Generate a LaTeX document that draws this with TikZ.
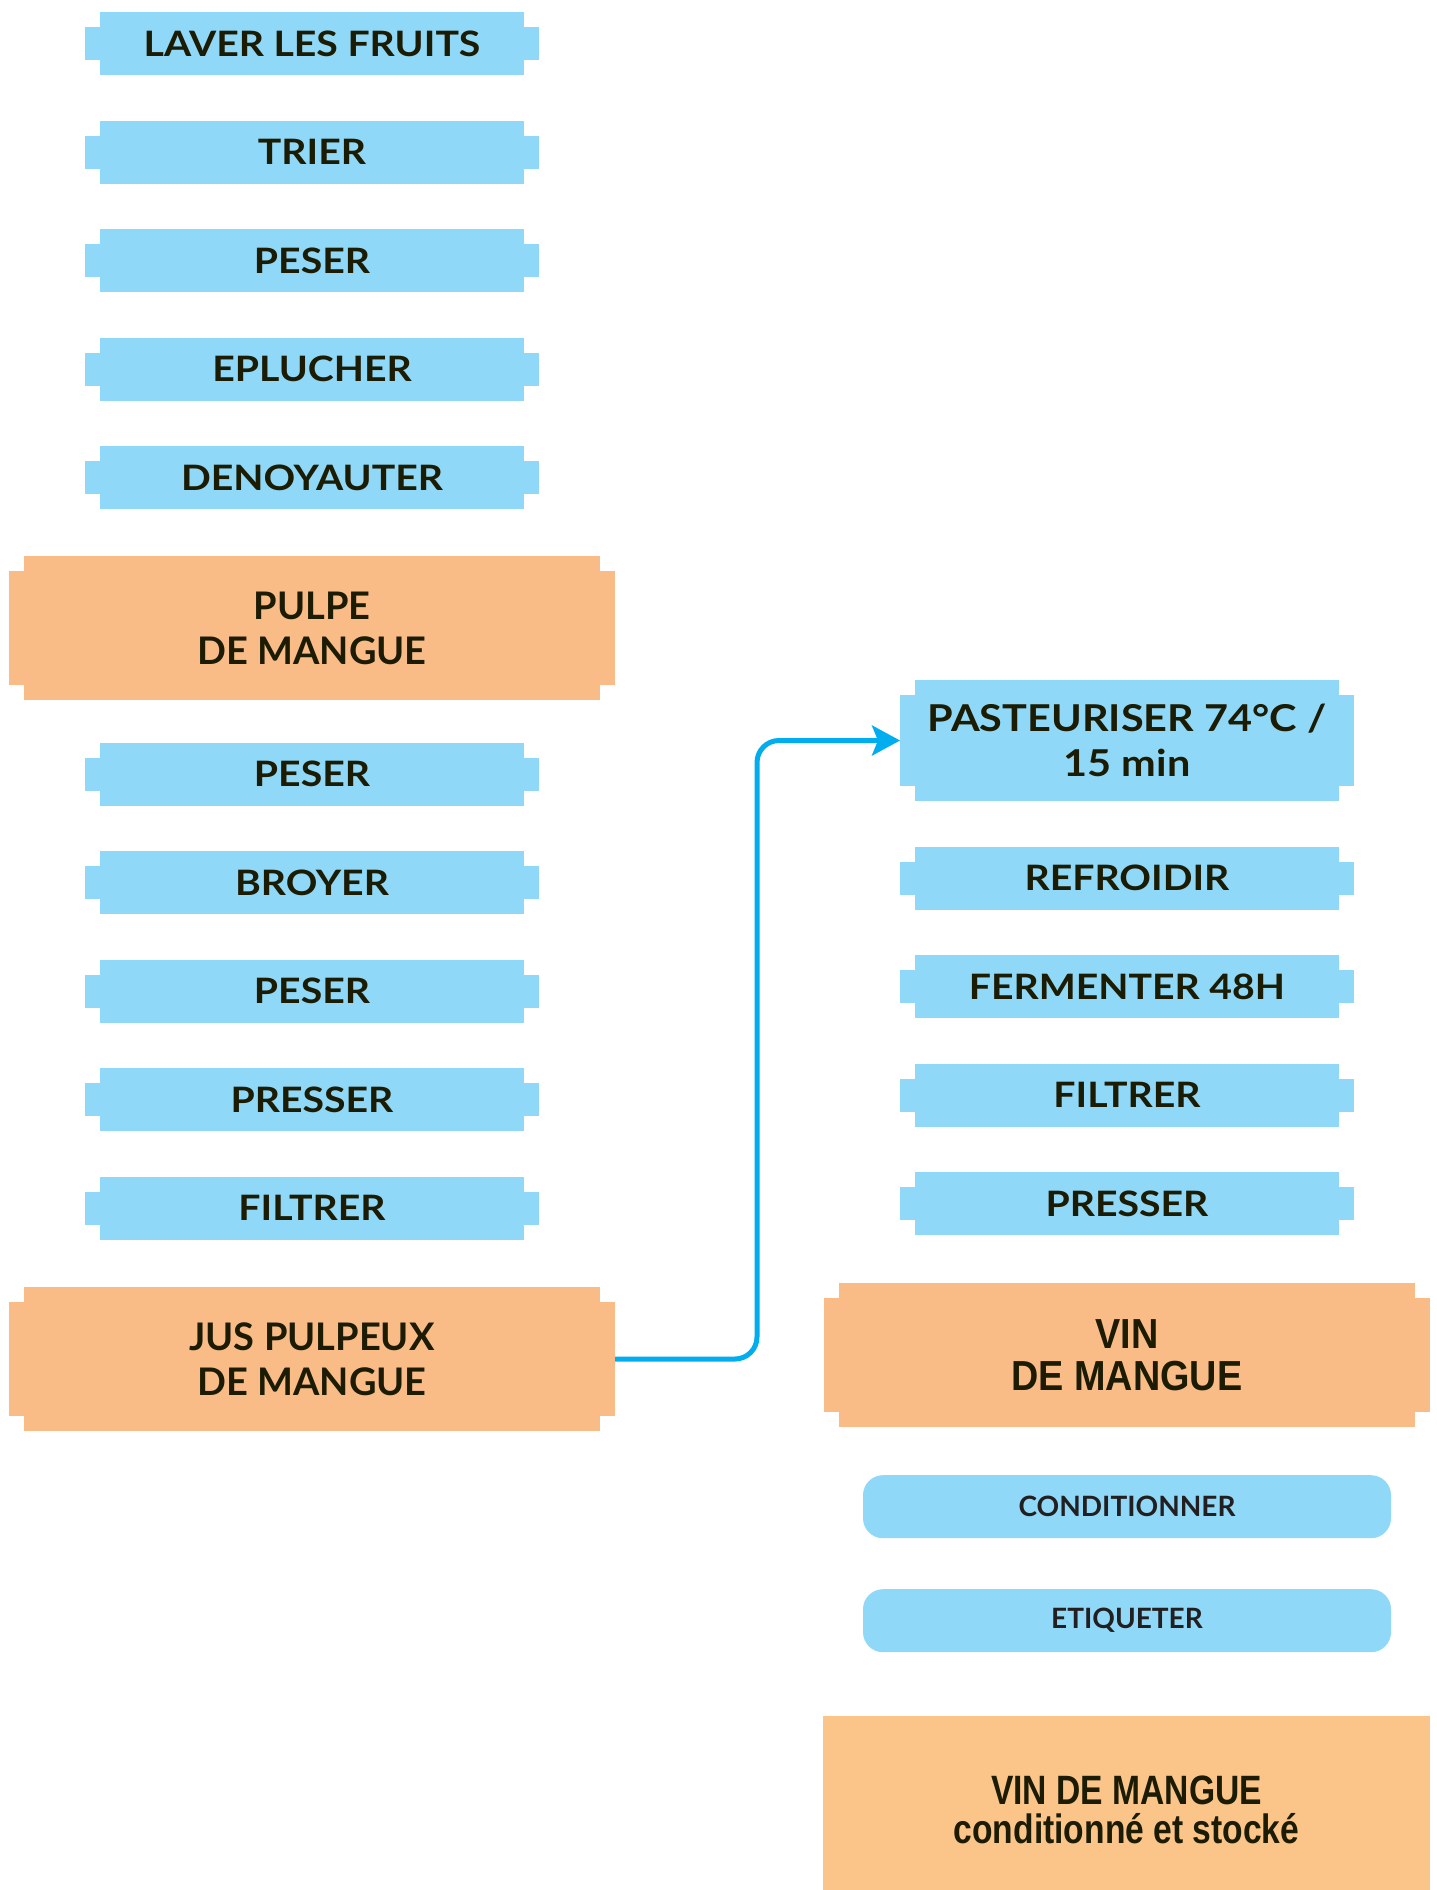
\documentclass[tikz,border=0pt]{standalone}
\usepackage{fontspec}
\setmainfont{Lato}
\newfontfamily\wideFont[FakeStretch=1.12]{Lato}
\newfontfamily\condfont[FakeStretch=0.9]{Liberation Sans}
\newfontfamily\narrowfont[FakeStretch=0.82]{Liberation Sans}
\usepackage{tikz}
\usetikzlibrary{arrows.meta,calc,positioning,backgrounds}
\definecolor{ink}{HTML}{1C1C05}
\definecolor{inkgrey}{HTML}{231F20}
\definecolor{sky}{HTML}{8FD8F7}
\definecolor{peach}{HTML}{FABC87}
\definecolor{peachlight}{HTML}{FBC58A}
\definecolor{flow}{HTML}{00AEEF}

% fill of a box with cut corners, drawn behind the node
\newcommand{\notchfill}[2]{%
  \fill[#2] ([xshift=7.5pt]#1.north west) rectangle ([xshift=-7.5pt]#1.south east);
  \fill[#2] ([yshift=-7.5pt]#1.north west) rectangle ([yshift=7.5pt]#1.south east);}

\tikzset{
  stepbox/.style={minimum width=227pt,minimum height=31.5pt,inner sep=0pt,outer sep=0pt,text=ink,
    font=\wideFont\bfseries\fontsize{17.5}{21}\selectfont,align=center},
  productbox/.style={minimum width=303pt,minimum height=72pt,inner sep=0pt,outer sep=0pt,text=ink,
    font=\bfseries\fontsize{19}{22.5}\selectfont,align=center},
  packbox/.style={fill=sky,rounded corners=10pt,minimum width=264pt,minimum height=31.5pt,
    inner sep=0pt,outer sep=0pt,text=inkgrey,font=\bfseries\fontsize{14}{16}\selectfont}
}

\begin{document}
\begin{tikzpicture}[x=0.5pt,y=-0.5pt,>=Latex]
\useasboundingbox (0,0) rectangle (1436,1890);
% left column
\node[stepbox] (laver) at (312,43.5) {LAVER LES FRUITS};
\node[stepbox,below=22.75pt of laver] (trier) {TRIER};
\node[stepbox,below=22.75pt of trier] (peser1) {PESER};
\node[stepbox,below=22.75pt of peser1] (eplucher) {EPLUCHER};
\node[stepbox,below=22.75pt of eplucher] (denoyauter) {DENOYAUTER};
\node[productbox,below=23.5pt of denoyauter] (pulpe) {PULPE\\DE MANGUE};
\node[stepbox,below=21.25pt of pulpe] (peser2) {PESER};
\node[stepbox,below=22.75pt of peser2] (broyer) {BROYER};
\node[stepbox,below=22.75pt of broyer] (peser3) {PESER};
\node[stepbox,below=22.75pt of peser3] (presser1) {PRESSER};
\node[stepbox,below=22.75pt of presser1] (filtrer1) {FILTRER};
\node[productbox,below=23.75pt of filtrer1] (jus) {JUS PULPEUX\\DE MANGUE};
% right column
\node[stepbox,minimum height=60.5pt,font=\wideFont\bfseries\fontsize{18.5}{22.5}\selectfont] (past) at (1127,740.5) {PASTEURISER 74°C /\\15 min};
\node[stepbox,below=22.85pt of past] (refroidir) {REFROIDIR};
\node[stepbox,below=22.75pt of refroidir] (fermenter) {FERMENTER 48H};
\node[stepbox,below=22.75pt of fermenter] (filtrer2) {FILTRER};
\node[stepbox,below=22.75pt of filtrer2] (presser2) {PRESSER};
\node[productbox,below=24pt of presser2,font=\condfont\bfseries\fontsize{21}{21}\selectfont] (vin) {VIN\\DE MANGUE};
\node[packbox,below=24pt of vin] (cond) {CONDITIONNER};
\node[packbox,below=25.5pt of cond] (etiq) {ETIQUETER};
\node[fill=peachlight,minimum width=303.5pt,minimum height=94pt,inner sep=0pt,outer sep=0pt,text=ink,align=center,
  font=\narrowfont\bfseries\fontsize{20.5}{19.5}\selectfont] (stock) at (1126.5,1810) {VIN DE MANGUE\\conditionné et stocké};

\begin{scope}[on background layer]
\foreach \n in {laver,trier,peser1,eplucher,denoyauter,peser2,broyer,peser3,presser1,filtrer1,
  past,refroidir,fermenter,filtrer2,presser2} {\notchfill{\n}{sky}}
\foreach \n in {pulpe,jus,vin} {\notchfill{\n}{peach}}
\end{scope}

\draw[-{Stealth[length=14pt,width=15pt,inset=3pt]},flow,line width=2.5pt,rounded corners=11pt]
  (jus.east) -| ([xshift=-71.5pt]past.west) -- (past.west);
\end{tikzpicture}
\end{document}
